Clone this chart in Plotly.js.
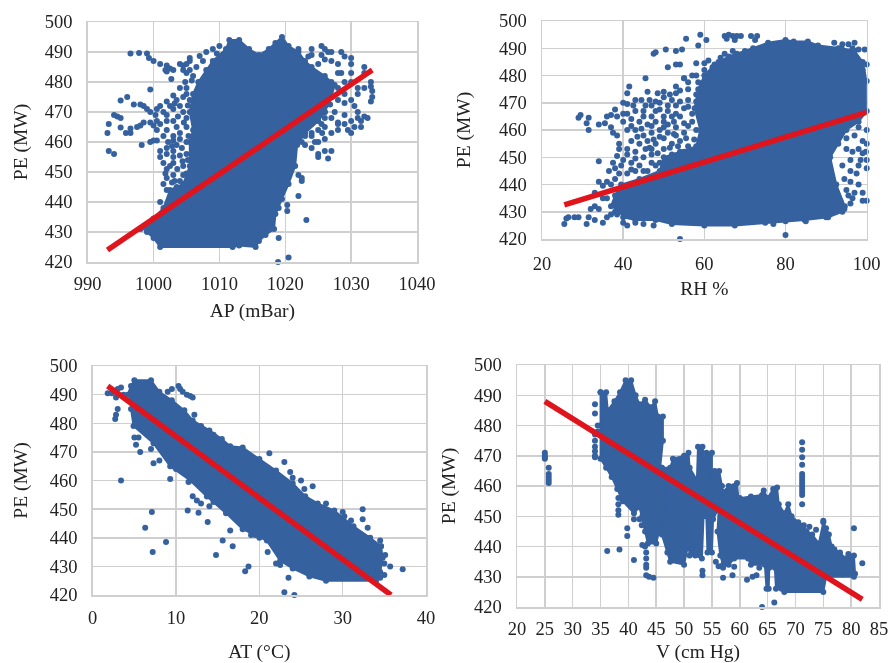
<!DOCTYPE html>
<html><head><meta charset="utf-8">
<script src="https://cdn.plot.ly/plotly-3.0.1.min.js"></script>
<style>html,body{margin:0;padding:0;background:#fff}#c{width:896px;height:663px;filter:blur(0.4px)}</style>
</head><body><div id="c"></div>
<script>
// Each dense region is its outline; loose points are read individually.
const apDense=[[998,431],[1000,434.5],[1001.5,438],[1002.5,444],[1004.5,446],[1005.5,452],[1005.5,460],[1006,464],[1005.5,470],[1006,476],[1006.8,480],[1008,484],[1009,487],[1011,491],[1011.5,494],[1013,494],[1014.5,491],[1016,489],[1017.5,491],[1018.5,493],[1019.5,495],[1020.5,492],[1022,490],[1023,487],[1024,485],[1026,482],[1027.5,479],[1027,475],[1026,470],[1025,467],[1023,463],[1021.8,459],[1021.5,452],[1020.5,446],[1019.5,441],[1018.5,436],[1018.3,431],[1017,429],[1016,427],[1015.5,425],[1013,425.5],[1012,425],[1001,425],[1000,428],[999,430]];
const apPoints=[[996.5,489.5],[997.8,489.7],[999,489.5],[999.3,488],[1000,487],[1001,486],[1002,485.5],[1002.5,484.5],[1001.8,484],[1002,483.5],[1003,484],[1002.7,481],[1004,486],[1004.5,485.5],[1005,486],[1005.5,487],[1005.5,488],[1004.5,484],[1005,483],[1005.5,484],[999.5,477.5],[996,475],[995,473.8],[997,472.5],[998,472.5],[998.5,472],[999,471],[999.5,470],[1000.5,471],[1000.3,469],[1001,472],[1001.5,470],[1002,473.5],[1002.5,472],[1003,475.5],[1003.5,474],[1004,472],[1004.5,475],[1003,471],[993.2,466],[993,463],[994,469],[994.5,468.5],[995,468],[995,464.8],[995.8,463],[996.5,463],[996.5,464.5],[997.5,465],[998,465.5],[998.5,466.5],[999.5,466.5],[1000,465.5],[1000.5,467],[1000.5,464],[1001,466],[1002,467],[1003,467],[1003.5,465],[1002,464],[1001.5,462],[1000.5,460.5],[1000,460.5],[999.5,460],[998.2,459],[993.2,457],[994,456],[1002,458],[1002,456],[1001,455],[1001.5,453],[1002.5,452],[1002,451],[1003,457],[1003.5,459],[1004,461],[1005,460],[1004,463],[1005,465],[1005,468],[1004.5,470],[1002,448],[1001.5,446],[1002,444],[1003,449],[1004,447],[1004.5,449],[1003.5,445],[1003,453],[1003,455],[1005,456],[1004.5,452],[1001,440],[1001,457],[1002.2,460],[1003,462],[1002,469],[1004,478],[1005,478],[1005,476],[1005.5,474],[1006,482],[1007.5,487],[1008,490],[1009,491],[1010,492],[1022,491],[1024,489],[1025.5,492],[1026,491],[1026.5,490],[1027,490],[1025.5,489],[1026,487.5],[1027,487],[1025,486],[1028.5,490],[1029,488.5],[1030,488],[1030,486],[1028,483],[1028.5,483],[1030,483],[1030,480],[1032,485],[1032,483],[1033,480],[1033,478.5],[1033.2,477],[1033.2,475],[1033,473.5],[1032,478],[1031,478],[1031,476],[1030,474],[1029,473],[1030.5,472],[1031,470],[1029,469],[1031,468],[1032,468.5],[1032.5,468],[1031.5,467],[1030,467],[1029,466],[1028,466],[1030.5,465],[1031.5,465],[1030,463],[1029.5,464],[1028,466.5],[1027,468],[1027.5,470],[1026,470],[1026,468],[1025.5,466],[1026,465],[1028,464],[1027,463],[1025,464],[1026,461],[1025,460],[1024,458],[1025,456],[1026,457],[1026.5,454.5],[1027,457],[1025,455],[1024.5,460],[1024,462],[1023,462],[1022.5,460],[1027,480],[1028,478],[1029,476],[1029,480],[1028,474],[1027,475],[1024,463],[1024,466],[1025,470],[1026,475],[1022,449],[1022.5,448],[1022.5,447],[1022,442],[1023.2,434],[1020.3,439],[1020.3,437],[1019,438],[1019,428],[1020.5,421.5],[1018.9,420],[1003.2,447],[1004.4,444.5],[1005,449.5],[1005.2,454],[1004,455.5],[1004.3,458],[1003,460.5],[1005.3,462],[1004.6,466.5],[1003.7,468.5],[1003.2,472.8],[1005.2,472.2],[1002.8,458.7],[1001.8,449.5],[1002.8,446.5],[1003.6,451],[1004.4,453.6],[1004.8,480],[1005.8,480.5],[1006.5,485],[1007,488.7],[1009.6,489.5],[1024,491],[1023.5,488.5],[1028,486],[1026,478],[1026.8,472.5],[1025.6,463],[1023,459]];
const apTrend=[[993,424],[1033.2,484]];

const rhDense=[[37,432],[38,436],[39.5,440],[44,442],[49,445],[50,450],[54,452],[58,454],[59,460],[57.6,468],[58.5,475],[60,480],[62.5,484],[66,487],[68,488],[72,490],[75.7,492],[80,493],[82,492.5],[85.5,492.5],[88,491],[93.8,490],[97,489],[99,485],[100,478],[100,467],[98,463],[95,460],[93,455],[91,450],[92.5,440],[94.6,432],[94,430],[90.5,428],[84.7,427],[75,426],[67.5,425],[60,425],[52,425.5],[48,427],[43,427],[40,428]];
const rhPoints=[[29,464.5],[29.5,465.5],[31.5,464.5],[31,462.5],[31.5,460],[34,462],[35.5,462.5],[36,465],[37,465.5],[38,467.5],[38.5,465],[37,461],[37.5,459],[38.5,458],[39,455],[39,453],[38.5,450.5],[37.5,448],[38,446],[36.5,445],[34,448.5],[36,441],[35,439.5],[34,441],[33,437],[35,435],[33,432],[34,431],[32,431],[31.5,428],[29,428],[28,428],[26.5,428],[26,427.5],[25.5,425.5],[31,425.5],[33,427],[35,426],[36,428],[37,429],[38,430],[40,426],[38.5,429],[41,425],[43,426],[45,425.5],[47.5,425],[36,435],[37,440],[38,442],[40,470],[41,469.5],[41,473.5],[41.5,476],[43,471],[44.5,471],[45,467],[46.5,471],[47,469],[48,467],[49,470],[50,472],[50,474],[51.5,473],[52,471],[53,473.5],[54,474.5],[56,475],[55,479],[56,471],[53,469],[54,465],[52,465],[50,465],[48,463],[46,462],[44,463],[42,464],[40,463],[41,460],[43,460],[45,458],[47,459],[49,460],[51,462],[53,461],[55,459],[57,463],[58,460],[54,456],[52,455],[50,457],[48,455],[46,456],[44,455],[42,456],[41,453],[43,452],[45,450],[47,451],[49,448],[44,447],[42,448],[40,449],[46,445],[48,447],[50,453],[52,451],[55,452],[53,458],[51,459],[39,444],[41,444],[43,445],[47,453],[51,467],[55,468],[43,467],[45,465],[41,466],[65,494.5],[66,495],[67,494.5],[68,494.5],[69,494.5],[65.5,493.5],[67.5,493],[71.5,494.5],[73,494.5],[72.5,493],[59,495],[60.5,493],[55.5,493.5],[58.5,491],[54.5,489.5],[53,489],[50.5,489.5],[48,488.5],[47.5,488],[51,483],[53,484],[54,484],[58,484.5],[60,484.5],[45.5,479],[55,479],[57,480],[58,480],[65,488],[67,489],[63.5,485],[62,483],[70,489],[92,492],[94,491.5],[95.5,491.5],[96.5,490],[98,489.5],[99.5,489.5],[97,492],[93,490],[100,484],[98.5,484],[99,482],[96,463],[98,461],[100,460],[95,457],[97,458],[99,456],[100,455],[95,453],[96.5,452],[98,453],[99,451.5],[100,449],[98.5,449],[96,449],[94,447],[96,445],[98,447],[100,446],[97.5,444],[94.5,442],[96,441],[98,440],[95,438],[97,437],[99,437],[100,434],[99,434],[96.5,435],[96,433],[94.5,431],[93.5,434],[95.5,436],[99.8,452],[54,420],[80,421.5],[77,425.5],[80,426.5],[85,426.5],[90,428],[43.5,457.5],[46.5,453.5],[48.5,451.5],[50.5,448.5],[52.5,449.5],[54.5,449.5],[56.5,451.5],[51.5,453.5],[53.5,454],[56,454],[57.5,456.5],[55.5,457],[50,461],[52.5,458.5],[49,457.5],[47.5,456.5],[45.5,453],[43,449.5],[41,451],[39.5,447],[42,445.5],[45,445],[47,448],[50,463],[47,465],[44.5,460.5],[42,461.5],[40,466],[42.5,469],[45.5,469],[48,470.5],[51,469],[54,470.5],[56,468.5],[57,466],[55,462.5],[53,466],[49,467.5],[47,461.5],[52.5,463],[56,461.5],[58,470.5],[58,473],[56,477.5],[58.5,477.5],[60,482],[61,485.5],[64,486.5],[53,476],[48.5,473.5],[46,474]];
const rhTrend=[[25.5,432.5],[100,466.5]];

const atDense=[[4.2,490],[4.6,493],[5,495],[7,495],[8,491],[9.5,488],[11,484.5],[12,481],[14,477.5],[15.5,474.5],[16.5,472],[18,471.5],[20,467.5],[22,463.5],[24,459],[25.5,454.5],[27,452],[29,449.5],[31.3,444],[33.3,440],[34.6,437],[34.8,433],[34.5,428],[34,425],[28,425],[26,426.5],[24,429.3],[22.5,432],[20.9,439],[18,443],[16,448.6],[13.7,454.4],[11.7,460],[9.3,465],[7.3,473],[4.9,479],[4.6,485]];
const atPoints=[[1.8,490.5],[2.3,490.5],[2.8,489],[3,492],[3.4,492.5],[3.7,490],[3,485],[2.8,483],[2.7,481.5],[5,475],[5.2,472.5],[5.5,475],[5.7,470],[7,471],[7.3,466],[8,467],[3.4,460],[9.3,460.5],[7.1,449],[6.3,443.5],[8.8,438.5],[7.2,435],[11.4,449.5],[12.7,448.7],[13.8,445.5],[16.5,442.5],[15.6,439],[16.8,437],[14.8,434],[18.7,430],[18.3,428.3],[23.5,426],[23,421],[24.2,420],[21.2,469.5],[23,466.5],[23.7,463],[25.4,457],[26.4,458],[32.4,450],[32.4,446.5],[33,443.5],[34.5,439],[34.6,437],[35.1,434],[35,431],[35.7,430],[37.2,429],[34.5,426],[35,427],[30.2,447.5],[9,491],[9.5,492],[10.3,493],[10.5,492],[10.8,491],[11.3,490],[11.7,489.5],[12,489],[12.2,483],[13,479],[14.5,476],[12,454.5],[12.5,453],[13,452],[14,451],[14.5,452.5],[11.5,459.5],[10,464],[9,468],[17,447],[18,445],[19,441],[19.5,441],[20,440],[21,435],[22.5,430.5],[22,431],[26.5,451],[28,452],[24,461],[25,460],[31,446],[30,449]];
const atTrend=[[1.8,493],[35.8,420]];

const vDense=[[35,491],[36,491],[36.3,485],[37.5,488],[38.5,491],[39.5,495],[40.5,495],[41.3,490],[42,487],[43,488.5],[44,486],[44.8,488],[45.3,483],[46.2,483],[46.2,475],[45.7,466],[47,465],[47,448],[45.5,445],[45,441],[43.5,441],[43,445],[42.5,450],[42,453],[41,451],[39,455],[38,459],[37,463],[36,466],[35,469],[35,480],[35,491],[null,null],[46,466],[47.5,466],[48,469],[50,470],[50.8,471],[51,466],[52.3,462],[52.5,473],[53.3,473],[53.7,468],[54,471],[55,471],[55,463],[55.5,465],[56.3,465],[56.8,460],[57,455],[56,452],[55.2,449],[55,438],[54.2,438],[54,450],[53.5,450],[53.2,436],[52,437],[51,437],[50.8,441],[50,434],[47.5,435],[47,438],[46,444],[46.5,455],[46,466],[null,null],[56.3,455],[57,458],[58,460],[59.5,461],[59.8,455],[60,456],[62,456.5],[64,457],[64.3,458.5],[65,456],[66,459],[66.7,459.5],[67,454],[68,451],[68.7,454],[69.3,450],[70.5,448],[71.5,447],[72,445],[73,444],[74.2,441],[75,448],[76,444],[76.5,440],[77,439],[78,438],[79,436],[79.5,437.5],[80.5,437],[80.7,431],[80.5,430],[75.5,430],[75,425],[68,425],[67.5,426],[66.5,426],[66.3,433],[65.3,433],[65.2,426],[64.8,426],[64.5,434],[62,434],[61.5,436],[59,436],[58,434],[57,434],[56.5,437],[56,445],[56.3,455]];
const vPoints=[[25,471],[25,470],[25,469.5],[25,469],[25.7,466],[25.7,464],[25.7,463],[25.7,462],[25.7,461],[34,487],[34,484],[34,477],[34,475],[34,473],[34,471.5],[34,470],[34,469.5],[34.5,480],[34.5,478],[36.2,438.5],[38.4,439],[41,435.5],[39.8,446],[39.8,443.5],[38.2,450.5],[38.2,452],[38.2,454],[38.2,456],[41,449],[42,449],[42.4,447],[43,440],[42.5,440.5],[43.2,438],[43.2,436],[43.2,434],[43.2,433],[43.2,430.5],[43.7,430],[44.5,429.7],[53.3,432],[53.3,430.5],[55.7,435],[56.2,433.5],[57,433],[57,429.7],[58.7,430.5],[59,433.3],[61.3,429],[62.3,430],[63,430.5],[63.5,433],[64,420],[66.2,421.5],[71.2,474.5],[71.2,472],[71.2,469.5],[71.2,467],[71.2,464],[71.2,463],[71.2,462],[71.2,461],[71.2,460],[71.2,459],[71.2,458],[71.2,457],[71.2,454],[72.5,446.5],[73.7,445.5],[75,448.5],[80.5,446],[82,434.5],[75.5,446]];
const vTrend=[[25,488],[82,422.5]];

const peTicks=[420,430,440,450,460,470,480,490,500];
const panels=[
 {dense:apDense,pts:apPoints,trend:apTrend,xRange:[990,1040],dtick:10,xTitle:'AP (mBar)',px:[87.7,417],py:[22,262],xs:4,xt:10,yt:12},
 {dense:rhDense,pts:rhPoints,trend:rhTrend,xRange:[20,100],dtick:20,xTitle:'RH %',px:[542,866.7],py:[21,239],xs:7,xt:8,yt:23},
 {dense:atDense,pts:atPoints,trend:atTrend,xRange:[0,40],dtick:10,xTitle:'AT (°C)',px:[92.7,426],py:[366,595],xs:5,xt:19,yt:17},
 {dense:vDense,pts:vPoints,trend:vTrend,xRange:[20,85],dtick:5,xTitle:'V (cm Hg)',px:[517,879],py:[365,607],xs:4,xt:18,yt:13}
];
const W=896,H=663,BLUE='#36619f',RED='#e0141c',GRID='#cfcfcf';
const font={family:'"Liberation Serif",serif',size:18.5,color:'#222'};
const titleFont={family:'"Liberation Serif",serif',size:19.5,color:'#222'};
const traces=[],layout={width:W,height:H,margin:{l:0,r:0,t:0,b:0},showlegend:false,paper_bgcolor:'#fff',plot_bgcolor:'#fff',font:font};
panels.forEach((p,i)=>{
  const s=i?String(i+1):'';
  const col=k=>a=>a[k];
  traces.push({x:p.dense.map(col(0)),y:p.dense.map(col(1)),xaxis:'x'+s,yaxis:'y'+s,type:'scatter',mode:'lines+markers',fill:'toself',fillcolor:BLUE,line:{color:BLUE,width:2},marker:{color:BLUE,size:6},cliponaxis:false,hoverinfo:'skip'});
  traces.push({x:p.pts.map(col(0)),y:p.pts.map(col(1)),xaxis:'x'+s,yaxis:'y'+s,type:'scatter',mode:'markers',marker:{color:BLUE,size:6},cliponaxis:false});
  traces.push({x:p.trend.map(col(0)),y:p.trend.map(col(1)),xaxis:'x'+s,yaxis:'y'+s,type:'scatter',mode:'lines',line:{color:RED,width:5.5},cliponaxis:false});
  layout['xaxis'+s]={domain:[p.px[0]/W,p.px[1]/W],range:p.xRange,dtick:p.dtick,tick0:p.xRange[0],anchor:'y'+s,showgrid:true,gridcolor:GRID,gridwidth:1.5,zeroline:false,showline:true,linecolor:GRID,linewidth:1.5,mirror:true,ticks:'',ticklabelstandoff:p.xs,tickfont:font,title:{text:p.xTitle,font:titleFont,standoff:p.xt}};
  layout['yaxis'+s]={domain:[1-p.py[1]/H,1-p.py[0]/H],range:[420,500],tickvals:peTicks,anchor:'x'+s,showgrid:true,gridcolor:GRID,gridwidth:1.5,zeroline:false,showline:true,linecolor:GRID,linewidth:1.5,mirror:true,ticks:'',ticklabelstandoff:10,tickfont:font,title:{text:'PE (MW)',font:titleFont,standoff:p.yt}};
});
Plotly.newPlot('c',traces,layout,{displayModeBar:false,staticPlot:true});
</script></body></html>
